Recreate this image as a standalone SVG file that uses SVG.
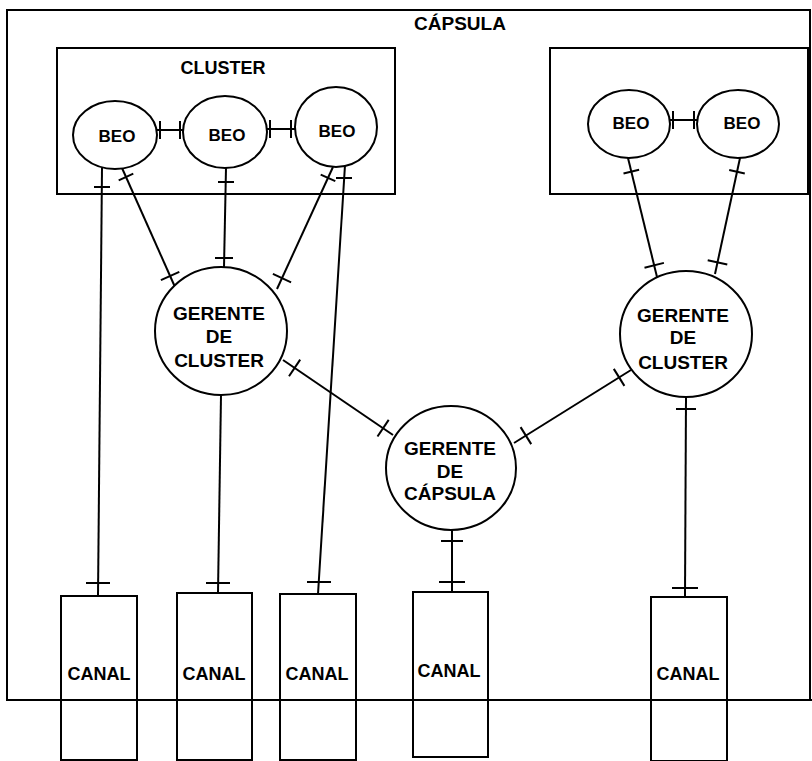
<svg xmlns="http://www.w3.org/2000/svg" width="812" height="761" viewBox="0 0 812 761">
<style>
.s{fill:none;stroke:#000;stroke-width:2}
.b{fill:#fff;stroke:#000;stroke-width:2}
.t{font-family:"Liberation Sans",Arial,sans-serif;font-weight:bold;fill:#000;text-anchor:middle}
.c line{stroke:#000;stroke-width:2}
</style>
<rect x="0" y="0" width="812" height="761" fill="#fff"/>
<g id="capsula">
<rect class="s" x="7" y="10" width="803" height="690"/>
<text class="t" x="460" y="30" font-size="19">CÁPSULA</text>
</g>
<g id="cluster-left">
<rect class="s" x="57" y="48" width="338" height="146"/>
<text class="t" x="223" y="74" font-size="18">CLUSTER</text>
</g>
<g id="cluster-right">
<rect class="s" x="550" y="48" width="258" height="146"/>
</g>
<g id="connectors" class="c">
<line x1="157" y1="130" x2="184" y2="130"/><line x1="160" y1="121" x2="160" y2="139"/><line x1="180" y1="121" x2="180" y2="139"/>
<line x1="267" y1="129" x2="295" y2="129"/><line x1="270" y1="120" x2="270" y2="138"/><line x1="291" y1="120" x2="291" y2="138"/>
<line x1="670" y1="120" x2="698" y2="120"/><line x1="673" y1="111" x2="673" y2="129"/><line x1="694" y1="111" x2="694" y2="129"/>
<line x1="102" y1="168" x2="98" y2="596"/><line x1="94" y1="187" x2="110" y2="187"/><line x1="86" y1="583" x2="110" y2="583"/>
<line x1="122" y1="168" x2="175" y2="287"/><line x1="133.3" y1="173.7" x2="118.7" y2="180.3"/><line x1="179.3" y1="271.9" x2="160.9" y2="280.1"/>
<line x1="226" y1="168" x2="224" y2="267"/><line x1="218" y1="182" x2="234" y2="182"/><line x1="215" y1="258" x2="233" y2="258"/>
<line x1="221" y1="395" x2="218" y2="593"/><line x1="206" y1="583" x2="230" y2="583"/>
<line x1="333" y1="167" x2="277" y2="289"/><line x1="335.3" y1="181.2" x2="320.7" y2="174.6"/><line x1="291.1" y1="282.3" x2="272.9" y2="273.9"/>
<line x1="345" y1="165" x2="318" y2="594"/><line x1="336" y1="178" x2="352" y2="178"/><line x1="307" y1="582" x2="331" y2="582"/>
<line x1="628" y1="158" x2="657" y2="277"/><line x1="639.1" y1="169.7" x2="623.5" y2="173.5"/><line x1="663.9" y1="262.9" x2="644.5" y2="267.7"/>
<line x1="740" y1="158" x2="715" y2="274"/><line x1="744.8" y1="173.4" x2="729.2" y2="170"/><line x1="727.3" y1="264.4" x2="707.7" y2="260.2"/>
<line x1="686" y1="397" x2="685" y2="597"/><line x1="676" y1="409" x2="696" y2="409"/><line x1="672" y1="588" x2="698" y2="588"/>
<line x1="283" y1="360" x2="393" y2="435"/><line x1="300.2" y1="359.6" x2="289" y2="376.2"/><line x1="388.7" y1="419.9" x2="377.5" y2="436.5"/>
<line x1="631" y1="370" x2="514" y2="443"/><line x1="624.4" y1="385.9" x2="613.8" y2="368.9"/><line x1="531.2" y1="444.1" x2="520.6" y2="427.1"/>
<line x1="452" y1="530" x2="452" y2="592"/><line x1="441" y1="541" x2="463" y2="541"/><line x1="439" y1="582" x2="465" y2="582"/>
</g>
<g id="beo1"><ellipse class="b" cx="115" cy="135" rx="42" ry="34"/><text class="t" x="117" y="142" font-size="17">BEO</text></g>
<g id="beo2"><ellipse class="b" cx="225" cy="132" rx="42" ry="36"/><text class="t" x="227" y="141" font-size="17">BEO</text></g>
<g id="beo3"><ellipse class="b" cx="336" cy="127" rx="41" ry="40"/><text class="t" x="337" y="137" font-size="17">BEO</text></g>
<g id="beo4"><ellipse class="b" cx="629" cy="124" rx="41" ry="34"/><text class="t" x="631" y="129" font-size="17">BEO</text></g>
<g id="beo5"><ellipse class="b" cx="738" cy="124" rx="41" ry="34"/><text class="t" x="742" y="129" font-size="17">BEO</text></g>
<g id="gerente-cluster-left"><ellipse class="b" cx="221" cy="331" rx="66" ry="64"/>
<text class="t" font-size="19" x="219" y="320">GERENTE</text><text class="t" font-size="19" x="219" y="343">DE</text><text class="t" font-size="19" x="219" y="367">CLUSTER</text></g>
<g id="gerente-cluster-right"><ellipse class="b" cx="686" cy="334" rx="66" ry="63"/>
<text class="t" font-size="19" x="683" y="322">GERENTE</text><text class="t" font-size="19" x="683" y="344">DE</text><text class="t" font-size="19" x="683" y="369">CLUSTER</text></g>
<g id="gerente-capsula"><ellipse class="b" cx="451" cy="468" rx="65" ry="62"/>
<text class="t" font-size="19" x="450" y="455">GERENTE</text><text class="t" font-size="19" x="450" y="478">DE</text><text class="t" font-size="19" x="450" y="500">CÁPSULA</text></g>
<g id="canal1"><rect class="s" x="61" y="596" width="76" height="164"/><text class="t" font-size="18" x="99" y="680">CANAL</text></g>
<g id="canal2"><rect class="s" x="177" y="593" width="75" height="167"/><text class="t" font-size="18" x="214" y="680">CANAL</text></g>
<g id="canal3"><rect class="s" x="280" y="594" width="76" height="166"/><text class="t" font-size="18" x="317" y="680">CANAL</text></g>
<g id="canal4"><rect class="s" x="413" y="592" width="75" height="165"/><text class="t" font-size="18" x="449" y="677">CANAL</text></g>
<g id="canal5"><rect class="s" x="651" y="597" width="76" height="164"/><text class="t" font-size="18" x="688" y="680">CANAL</text></g>
<g id="base"><line class="s" x1="7" y1="700" x2="812" y2="700"/></g>
</svg>
